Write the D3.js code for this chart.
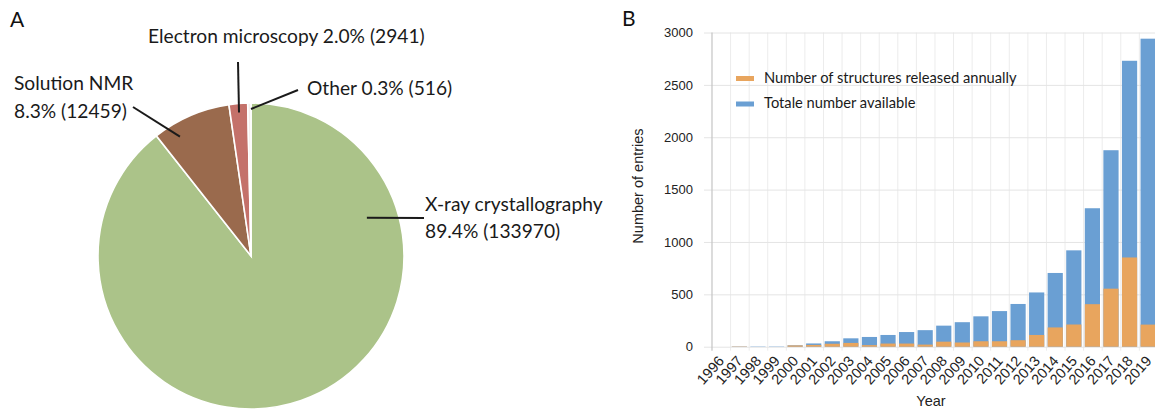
<!DOCTYPE html>
<html>
<head>
<meta charset="utf-8">
<script src="https://cdn.jsdelivr.net/npm/d3@7"></script>
<style>
  body { margin: 0; background: #fff; }
  svg { display: block; }
</style>
</head>
<body>
<div id="chart"></div>
<script>
// Panel A data: PDB entries by experimental method
const pieLabels = ["X-ray crystallography", "Solution NMR", "Electron microscopy", "Other"];
const pieCounts = [133970, 12459, 2941, 516];
const pieColors = ["#abc389", "#9a6a4d", "#c4716a", "#f5eeec"];

// Panel B data: EM structures per year
const years = ["1996", "1997", "1998", "1999", "2000", "2001", "2002", "2003", "2004", "2005",
  "2006", "2007", "2008", "2009", "2010", "2011", "2012", "2013", "2014", "2015",
  "2016", "2017", "2018", "2019"];
const totalAvailable = [0, 3, 3, 3, 13, 31, 52, 80, 93, 112, 140, 158, 201, 234, 290, 340,
  408, 518, 704, 920, 1322, 1876, 2730, 2941];
const releasedAnnually = [0, 3, 0, 0, 12, 17, 28, 36, 15, 30, 30, 20, 48, 40, 52, 52,
  62, 112, 184, 212, 406, 554, 852, 211];
const yTicks = [0, 500, 1000, 1500, 2000, 2500, 3000];
const seriesNames = ["Number of structures released annually", "Totale number available"];

const width = 1155;
const height = 410;
const labelFont = "Lato, 'Noto Sans', sans-serif";
const axisFont = "'Liberation Sans', Arial, sans-serif";

const svg = d3.select("#chart")
  .append("svg")
  .attr("width", width)
  .attr("height", height);

// panel letters
svg.append("text").attr("x", 10).attr("y", 27).text("A")
  .style("font-family", labelFont).style("font-size", "21px").style("fill", "#111");
svg.append("text").attr("x", 622).attr("y", 26).text("B")
  .style("font-family", labelFont).style("font-size", "21px").style("fill", "#111");

// ---------- Pie ----------
const cx = 251, cy = 256, radius = 153;
const pie = d3.pie().sort(null).value(d => d)(pieCounts);
const arc = d3.arc().innerRadius(0).outerRadius(radius);
const total = d3.sum(pieCounts);
const pct = d3.format(".1%");

const gPie = svg.append("g").attr("transform", `translate(${cx},${cy})`);
gPie.selectAll("path")
  .data(pie)
  .join("path")
  .attr("d", arc)
  .attr("fill", (d, i) => pieColors[i])
  .attr("stroke", "#fff")
  .attr("stroke-width", 1.6);

// label placement (t = position inside slice, r = radius of leader end)
const pieLabelLayout = [
  { x: 425, y: 211, lh: 27, split: true, t: 0.223, r: 122, ox: 424, oy: 218 },
  { x: 14, y: 90, lh: 28, split: true, t: 0.25, r: 139, ox: 133, oy: 107 },
  { x: 148, y: 43, lh: 0, split: false, t: 0.5, r: 144, ox: 238, oy: 62 },
  { x: 307, y: 95, lh: 0, split: false, t: 1.0, r: 147, ox: 298, oy: 90 }
];

pie.forEach((d, i) => {
  const L = pieLabelLayout[i];
  const a = d.startAngle + L.t * (d.endAngle - d.startAngle);
  const ix = cx + L.r * Math.sin(a);
  const iy = cy - L.r * Math.cos(a);
  svg.append("line")
    .attr("x1", ix).attr("y1", iy)
    .attr("x2", L.ox).attr("y2", L.oy)
    .attr("stroke", "#1a1a1a")
    .attr("stroke-width", 2);

  const value = `${pct(pieCounts[i] / total)} (${pieCounts[i]})`;
  const lines = L.split ? [pieLabels[i], value] : [`${pieLabels[i]} ${value}`];
  const t = svg.append("text")
    .style("font-family", labelFont)
    .style("font-size", "19.2px")
    .style("fill", "#1a1a1a");
  lines.forEach((s, j) => {
    t.append("tspan").attr("x", L.x).attr("y", L.y + j * L.lh).text(s);
  });
});

// ---------- Bars ----------
const x = d3.scaleBand()
  .domain(years)
  .range([712, 712 + 24 * 18.58])
  .padding(0);

const y = d3.scaleLinear()
  .domain([0, 3000])
  .range([346.7, 32.5]);

const gBar = svg.append("g");

// vertical grid at band edges
gBar.selectAll(".vgrid")
  .data(years.slice(1))
  .join("line")
  .attr("class", "vgrid")
  .attr("x1", d => x(d)).attr("x2", d => x(d))
  .attr("y1", y(3000)).attr("y2", y(0) + 4)
  .attr("stroke", "#ececec")
  .attr("stroke-width", 1);

// horizontal grid + y labels
const yAxis = d3.axisLeft(y)
  .tickValues(yTicks)
  .tickFormat(d3.format("d"))
  .tickSize(-(width - 704))
  .tickPadding(11);

gBar.append("g")
  .attr("transform", "translate(704,0)")
  .call(yAxis)
  .call(g => g.select(".domain").remove())
  .call(g => g.selectAll(".tick line").attr("stroke", "#e4e4e4"))
  .call(g => g.selectAll(".tick text")
    .style("font-family", axisFont)
    .style("font-size", "13px")
    .style("fill", "#222"));

// y axis line
gBar.append("line")
  .attr("x1", 712).attr("x2", 712)
  .attr("y1", y(3000)).attr("y2", y(0) + 4)
  .attr("stroke", "#c4c4c4")
  .attr("stroke-width", 1.2);

// bars: total behind, annual in front
const barInset = 1.2;
const barW = 15.2;
gBar.selectAll(".total")
  .data(years)
  .join("rect")
  .attr("class", "total")
  .attr("x", d => x(d) + barInset)
  .attr("width", barW)
  .attr("y", (d, i) => y(totalAvailable[i]))
  .attr("height", (d, i) => y(0) - y(totalAvailable[i]))
  .attr("fill", "#6a9fd3");

gBar.selectAll(".annual")
  .data(years)
  .join("rect")
  .attr("class", "annual")
  .attr("x", d => x(d) + barInset)
  .attr("width", barW)
  .attr("y", (d, i) => y(releasedAnnually[i]))
  .attr("height", (d, i) => y(0) - y(releasedAnnually[i]))
  .attr("fill", "#e8a55e");

// x labels
const xAxis = d3.axisBottom(x).tickSize(0).tickPadding(0);
gBar.append("g")
  .attr("transform", `translate(0,${y(0)})`)
  .call(xAxis)
  .call(g => g.select(".domain").remove())
  .call(g => g.selectAll(".tick text")
    .attr("transform", "translate(-4,8) rotate(-48)")
    .attr("dy", "0.71em")
    .style("text-anchor", "end")
    .style("font-family", axisFont)
    .style("font-size", "14.5px")
    .style("fill", "#222"));

// axis titles
svg.append("text")
  .attr("transform", "translate(643,186) rotate(-90)")
  .attr("text-anchor", "middle")
  .style("font-family", axisFont)
  .style("font-size", "14.5px")
  .style("fill", "#222")
  .text("Number of entries");

svg.append("text")
  .attr("x", 931).attr("y", 406)
  .attr("text-anchor", "middle")
  .style("font-family", axisFont)
  .style("font-size", "14.5px")
  .style("fill", "#222")
  .text("Year");

// legend
const legend = svg.append("g");
const legendColors = ["#e8a55e", "#6a9fd3"];
seriesNames.forEach((name, i) => {
  legend.append("rect")
    .attr("x", 736).attr("y", 76 + i * 25.5)
    .attr("width", 18).attr("height", 5)
    .attr("fill", legendColors[i]);
  legend.append("text")
    .attr("x", 764).attr("y", 82.5 + i * 25.5)
    .style("font-family", labelFont)
    .style("font-size", "14.7px")
    .style("fill", "#1a1a1a")
    .text(name);
});
</script>
</body>
</html>
